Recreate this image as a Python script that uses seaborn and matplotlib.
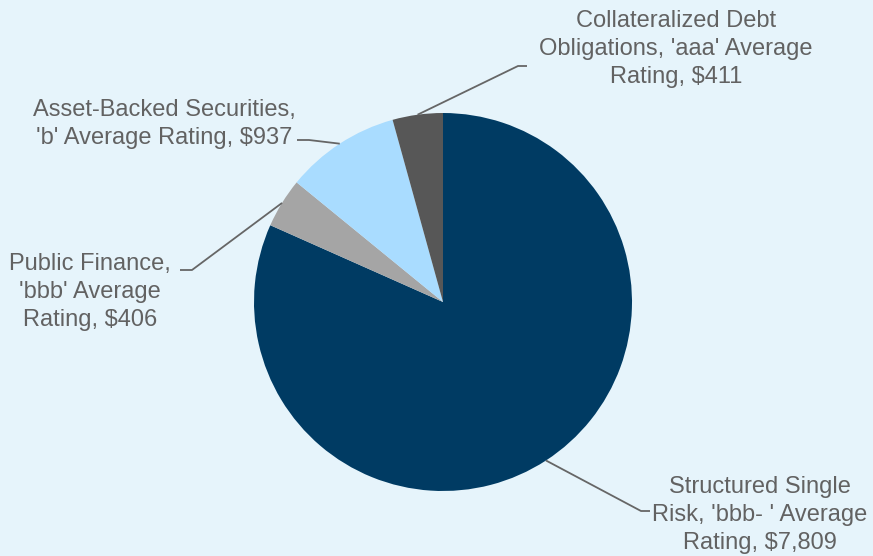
import numpy as np
import matplotlib
matplotlib.use("Agg")
import matplotlib.pyplot as plt
import seaborn as sns

# Exposure by sector
sectors = [
    "Structured Single\nRisk, 'bbb- ' Average\nRating, $7,809",
    "Public Finance,\n'bbb' Average\nRating, $406",
    "Asset-Backed Securities,\n'b' Average Rating, $937",
    "Collateralized Debt\nObligations, 'aaa' Average\nRating, $411",
]
amounts = [7809, 406, 937, 411]
colors = ["#003b63", "#a5a5a5", "#a9dcff", "#575757"]

sns.set_theme(style="white")
plt.rcParams["font.family"] = ["Liberation Sans", "DejaVu Sans"]

W, H = 873, 556
BG = "#e6f4fb"
TXT = "#626262"
LINE = "#666666"

fig = plt.figure(figsize=(W / 100, H / 100), dpi=100, facecolor=BG)
ax = fig.add_axes([0, 0, 1, 1])
ax.set_facecolor(BG)


def py(y):
    return H - y


cx, cy, r = 443, 302, 189
wedges, _ = ax.pie(amounts, colors=colors, startangle=90, counterclock=False,
                   center=(cx, py(cy)), radius=r, frame=True,
                   wedgeprops=dict(linewidth=0))
ax.set_xlim(0, W)
ax.set_ylim(0, H)
ax.set_aspect("equal")
ax.axis("off")

# label placement: (elbow point, line end, text position)
layout = [
    ((641, 511), (650, 511), (760, 515)),
    ((192, 270), (180, 270), (90, 292)),
    ((309, 140), (297, 140), (164, 124)),
    ((518, 66), (527, 66), (676, 49)),
]

for w, text, (elb, end, tpos) in zip(wedges, sectors, layout):
    mid = np.deg2rad((w.theta1 + w.theta2) / 2)
    sx = cx + r * np.cos(mid)
    sy = py(cy) + r * np.sin(mid)
    ax.plot([sx, elb[0], end[0]], [sy, py(elb[1]), py(end[1])],
            color=LINE, lw=1.3, solid_capstyle="butt")
    ax.text(tpos[0], py(tpos[1]), text, ha="center", va="center",
            multialignment="center", fontsize=17, color=TXT, linespacing=1.37)

fig.savefig("out.png", dpi=100, facecolor=BG)
